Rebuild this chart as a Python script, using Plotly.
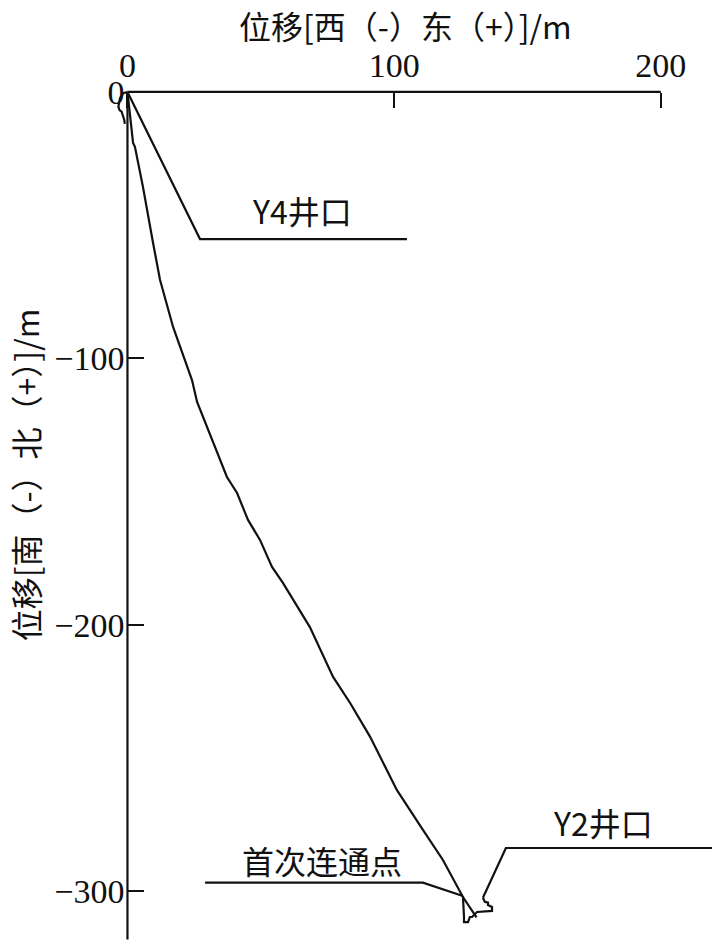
import plotly.graph_objects as go

# ---- data (metres) ----
# Y4 well trajectory (east +, north +)
y4_x = [0, 0.7, 1.6, 2.1, 2.8, 4.7, 5.8, 9.6, 12.2, 17.1, 22.3, 24.2, 26.1, 29.8, 33.6,
        37.3, 41.1, 45.2, 49.7, 54.2, 58.3, 64.7, 68.4, 77.1, 83.5, 91.0, 101.0, 110.8,
        118.3, 125.8, 130.9]
y4_y = [0, -6.8, -13.0, -19.1, -20.6, -29.3, -35.6, -56.7, -70.5, -88.2, -103.2, -108.1,
        -116.3, -125.7, -135.5, -144.5, -150.5, -160.6, -168.1, -178.2, -184.2, -194.4,
        -200.8, -219.5, -229.3, -242.0, -261.9, -276.9, -288.2, -302.1, -309.7]
# small excursion near the Y4 wellhead
head_x = [0, -1.6, -2.8, -3.4, -3.0, -2.2, -1.2, -1.0]
head_y = [0, -0.5, -2.3, -5.5, -6.8, -7.4, -10.5, -12.0]
# Y2 well trajectory (short, stepped)
y2_x = [133.3, 134.0, 135.2, 135.2, 136.7, 136.7, 131.1, 129.2, 128.4, 127.7, 126.2, 126.2, 125.8]
y2_y = [-302.4, -303.9, -304.2, -305.1, -305.8, -307.3, -307.7, -309.6, -309.6, -311.5, -311.5, -309.6, -301.7]

# leader lines for labels
lead_y4_x = [0, 27.2, 104.8]
lead_y4_y = [0, -55.2, -55.2]
lead_y2_x = [133.3, 141.9, 219.2]
lead_y2_y = [-302.4, -283.7, -283.7]
lead_c_x = [29.1, 110.8, 125.8]
lead_c_y = [-296.7, -296.7, -301.7]

labels = ["Y4井口", "Y2井口", "首次连通点"]
label_x = [65.4, 178.3, 72.9]
label_y = [-44.3, -273.9, -288.2]

x_ticks = [0, 100, 200]
x_ticktext = ["0", "100", "200"]
y_ticks = [0, -100, -200, -300]
y_ticktext = ["0", "\u2212100", "\u2212200", "\u2212300"]
x_axis_span = [0, 200]
y_axis_span = [0, -318]

x_title = "位移[西（-）东（+）]/m"
y_title = "位移[南（-）北（+）]/m"

W, H = 712, 945
X_RANGE = [-47.8, 219.2]
Y_RANGE = [-320.1, 34.5]

ink = "#111111"
line = dict(color=ink, width=2.2)
fig = go.Figure()
fig.add_trace(go.Scatter(x=x_axis_span, y=[0, 0], mode="lines", line=line, hoverinfo="skip"))
fig.add_trace(go.Scatter(x=[0, 0], y=y_axis_span, mode="lines", line=line, hoverinfo="skip"))
fig.add_trace(go.Scatter(x=y4_x, y=y4_y, mode="lines", line=line, name="Y4"))
fig.add_trace(go.Scatter(x=head_x, y=head_y, mode="lines", line=line, name="Y4 head"))
fig.add_trace(go.Scatter(x=y2_x, y=y2_y, mode="lines", line=line, name="Y2"))
for lx, ly in [(lead_y4_x, lead_y4_y), (lead_y2_x, lead_y2_y), (lead_c_x, lead_c_y)]:
    fig.add_trace(go.Scatter(x=lx, y=ly, mode="lines", line=line, hoverinfo="skip"))

cjk = "Noto Sans CJK SC"
for t, x, y in zip(labels, label_x, label_y):
    fig.add_annotation(x=x, y=y, xref="x", yref="y", text=t, showarrow=False,
                       xanchor="center", yanchor="middle",
                       font=dict(family=cjk, size=32, color=ink))

xpos = (0 - Y_RANGE[0]) / (Y_RANGE[1] - Y_RANGE[0])
ypos = (0 - X_RANGE[0]) / (X_RANGE[1] - X_RANGE[0])

fig.add_annotation(x=0.569, y=1.0, xref="paper", yref="paper", text=x_title, showarrow=False,
                   xanchor="center", yanchor="top",
                   font=dict(family=cjk, size=32, color=ink))
fig.add_annotation(x=0.0, y=0.497, xref="paper", yref="paper", text=y_title, showarrow=False,
                   xanchor="left", yanchor="middle", textangle=-90,
                   font=dict(family=cjk, size=32, color=ink))

tickfont = dict(family="Liberation Serif", size=34, color=ink)
fig.update_layout(
    width=W, height=H, margin=dict(l=0, r=0, t=0, b=0),
    paper_bgcolor="white", plot_bgcolor="white", showlegend=False,
    xaxis=dict(range=X_RANGE, side="top", anchor="free", position=xpos,
               tickmode="array", tickvals=x_ticks, ticktext=x_ticktext,
               ticks="inside", ticklen=15, tickwidth=2, tickcolor=ink,
               ticklabelstandoff=8,
               showgrid=False, zeroline=False, showline=False, tickfont=tickfont),
    yaxis=dict(range=Y_RANGE, anchor="free", position=ypos,
               tickmode="array", tickvals=y_ticks, ticktext=y_ticktext,
               ticks="inside", ticklen=16, tickwidth=2, tickcolor=ink,
               ticklabelstandoff=3,
               showgrid=False, zeroline=False, showline=False, tickfont=tickfont),
)
fig.write_html("out.html", config={"displayModeBar": False},
               post_script="document.body.style.margin='0';document.body.style.overflow='hidden';")
